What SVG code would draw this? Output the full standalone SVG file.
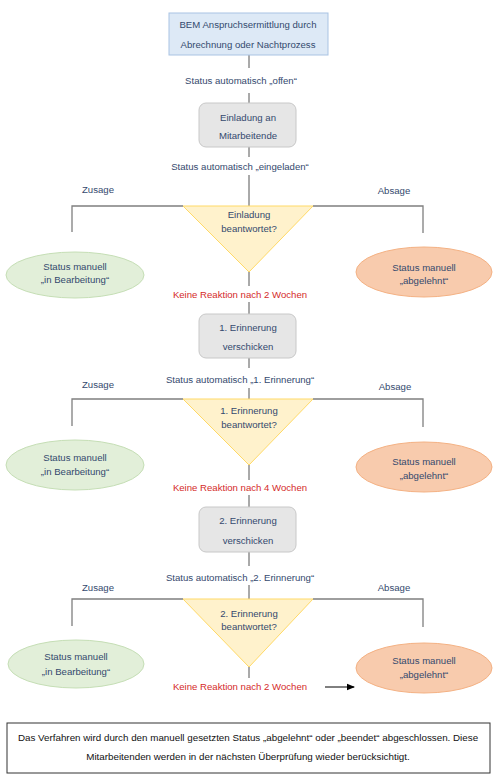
<svg xmlns="http://www.w3.org/2000/svg" width="501" height="775" viewBox="0 0 501 775">
<defs>
<marker id="arr" markerWidth="8" markerHeight="8" refX="7" refY="4" orient="auto" markerUnits="userSpaceOnUse">
<path d="M0,0.8 L8,4 L0,7.2 Z" fill="#000"/>
</marker>
<style>
text{font-family:"Liberation Sans","Noto Sans",sans-serif;font-size:9.6px;fill:#34496e;text-anchor:middle}
.red{fill:#d42a2a}
.blk{fill:#111;font-size:9.8px}
.start{fill:#dde9f6;stroke:#a9c3e3;stroke-width:1}
.proc{fill:#e6e6e6;stroke:#c8c8c8;stroke-width:1}
.dec{fill:#fff2cc;stroke:#ffd966;stroke-width:1}
.yes{fill:#e2efd9;stroke:#c5deb5;stroke-width:1}
.no{fill:#f8cbad;stroke:#f4b183;stroke-width:1}
.ln{fill:none;stroke:#7f7f7f;stroke-width:1.3}
.cl{fill:none;stroke:#555;stroke-width:1}
</style>
</defs>
<rect width="501" height="775" fill="#fff"/>
<g id="connectors">
<path class="cl" d="M249,55 V68 M249,93 V103 M249,147 V157 M249,175 V206 M249,272 V286 M249,302 V314 M249,358 V368 M249,388 V399 M249,465 V480 M249,495 V507 M249,552 V566 M249,585 V599 M249,667 V678"/>
<path class="ln" d="M183,206 H72 V232 M313,206 H423 V233"/>
<path class="ln" d="M183,399 H72 V426 M313,399 H423 V427"/>
<path class="ln" d="M183,599 H72 V626 M313,599 H423 V627"/>
<line x1="325" y1="687" x2="354" y2="687" stroke="#000" stroke-width="1" marker-end="url(#arr)"/>
</g>
<g id="start">
<rect class="start" x="169" y="13" width="159" height="42"/>
<text x="248" y="28">BEM Anspruchsermittlung durch</text>
<text x="248" y="48">Abrechnung oder Nachtprozess</text>
</g>
<g id="label-offen"><text x="241" y="84">Status automatisch „offen“</text></g>
<g id="einladung">
<rect class="proc" x="199" y="103" width="97" height="44" rx="7"/>
<text x="248" y="121">Einladung an</text>
<text x="248" y="139">Mitarbeitende</text>
</g>
<g id="label-eingeladen"><text x="240" y="170">Status automatisch „eingeladen“</text></g>
<g id="dec1">
<path class="dec" d="M183,206 H313 L249,272 Z"/>
<text x="249" y="218">Einladung</text>
<text x="249" y="232">beantwortet?</text>
</g>
<g id="zusage1"><text x="98" y="193">Zusage</text></g>
<g id="absage1"><text x="394" y="194">Absage</text></g>
<g id="inbearb1">
<ellipse class="yes" cx="75" cy="275" rx="69" ry="23"/>
<text x="75" y="270">Status manuell</text>
<text x="75" y="283">„in Bearbeitung“</text>
</g>
<g id="abgelehnt1">
<ellipse class="no" cx="424" cy="272" rx="68" ry="25"/>
<text x="424" y="271">Status manuell</text>
<text x="424" y="284">„abgelehnt“</text>
</g>
<g id="keine1"><text class="red" x="240" y="298">Keine Reaktion nach 2 Wochen</text></g>
<g id="erinnerung1">
<rect class="proc" x="199" y="314" width="97" height="44" rx="7"/>
<text x="248" y="331">1. Erinnerung</text>
<text x="248" y="350">verschicken</text>
</g>
<g id="label-e1"><text x="240" y="383">Status automatisch „1. Erinnerung“</text></g>
<g id="dec2">
<path class="dec" d="M183,399 H313 L249,465 Z"/>
<text x="249" y="414">1. Erinnerung</text>
<text x="249" y="428">beantwortet?</text>
</g>
<g id="zusage2"><text x="98" y="388">Zusage</text></g>
<g id="absage2"><text x="395" y="390">Absage</text></g>
<g id="inbearb2">
<ellipse class="yes" cx="75" cy="465" rx="69" ry="25"/>
<text x="75" y="461">Status manuell</text>
<text x="75" y="475">„in Bearbeitung“</text>
</g>
<g id="abgelehnt2">
<ellipse class="no" cx="424" cy="467" rx="68" ry="25"/>
<text x="424" y="465">Status manuell</text>
<text x="424" y="479">„abgelehnt“</text>
</g>
<g id="keine2"><text class="red" x="240" y="491">Keine Reaktion nach 4 Wochen</text></g>
<g id="erinnerung2">
<rect class="proc" x="199" y="507" width="97" height="45" rx="7"/>
<text x="248" y="524">2. Erinnerung</text>
<text x="248" y="544">verschicken</text>
</g>
<g id="label-e2"><text x="240" y="581">Status automatisch „2. Erinnerung“</text></g>
<g id="dec3">
<path class="dec" d="M183,599 H313 L249,667 Z"/>
<text x="249" y="617">2. Erinnerung</text>
<text x="249" y="630">beantwortet?</text>
</g>
<g id="zusage3"><text x="98" y="591">Zusage</text></g>
<g id="absage3"><text x="394" y="591">Absage</text></g>
<g id="inbearb3">
<ellipse class="yes" cx="76" cy="664" rx="68" ry="24"/>
<text x="76" y="660">Status manuell</text>
<text x="76" y="675">„in Bearbeitung“</text>
</g>
<g id="abgelehnt3">
<ellipse class="no" cx="424" cy="668" rx="68" ry="25"/>
<text x="424" y="664">Status manuell</text>
<text x="424" y="678">„abgelehnt“</text>
</g>
<g id="keine3"><text class="red" x="240" y="690">Keine Reaktion nach 2 Wochen</text></g>
<g id="note">
<rect x="7" y="723" width="483" height="50" fill="#fff" stroke="#333" stroke-width="1"/>
<text class="blk" x="248" y="741">Das Verfahren wird durch den manuell gesetzten Status „abgelehnt“ oder „beendet“ abgeschlossen. Diese</text>
<text class="blk" x="248" y="760">Mitarbeitenden werden in der nächsten Überprüfung wieder berücksichtigt.</text>
</g>
</svg>
